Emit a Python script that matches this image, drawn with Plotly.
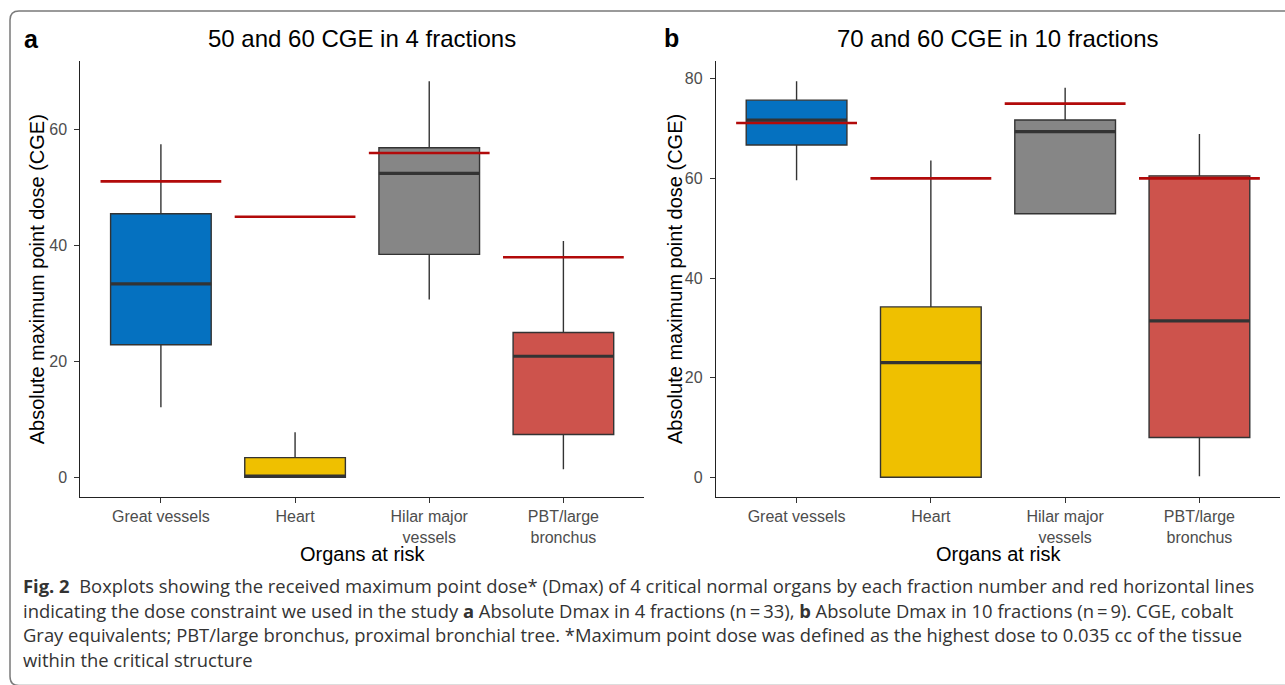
import plotly.graph_objects as go

# ---------------- data ----------------
organs = ["Great vessels", "Heart", "Hilar major<br>vessels", "PBT/large<br>bronchus"]
colors = ["#0571C0", "#EFC000", "#868686", "#CD534C"]

# panel a: 50 and 60 CGE in 4 fractions
a_low = [12.1, 0.0, 30.7, 1.4]
a_q1 = [22.9, 0.0, 38.5, 7.4]
a_med = [33.4, 0.2, 52.5, 20.9]
a_q3 = [45.5, 3.4, 56.9, 25.0]
a_high = [57.5, 7.8, 68.4, 40.8]
a_limit = [51.1, 45.0, 56.0, 38.0]

# panel b: 70 and 60 CGE in 10 fractions
b_low = [59.6, 0.0, 52.9, 0.2]
b_q1 = [66.7, 0.0, 52.9, 8.0]
b_med = [71.7, 23.0, 69.4, 31.4]
b_q3 = [75.7, 34.2, 71.7, 60.5]
b_high = [79.5, 63.6, 78.2, 68.9]
b_limit = [71.1, 60.0, 75.0, 60.0]

a_ticks = [0, 20, 40, 60]
b_ticks = [0, 20, 40, 60, 80]

title_a = "50 and 60 CGE in 4 fractions"
title_b = "70 and 60 CGE in 10 fractions"
ytitle = "Absolute maximum point dose (CGE)"
xtitle = "Organs at risk"

caption_lines = [
    "<b>Fig. 2</b>  Boxplots showing the received maximum point dose* (Dmax) of 4 critical normal organs by each fraction number and red horizontal lines",
    "indicating the dose constraint we used in the study <b>a</b> Absolute Dmax in 4 fractions (n\u2009=\u200933), <b>b</b> Absolute Dmax in 10 fractions (n\u2009=\u20099). CGE, cobalt",
    "Gray equivalents; PBT/large bronchus, proximal bronchial tree. *Maximum point dose was defined as the highest dose to 0.035 cc of the tissue",
    "within the critical structure",
]

# ---------------- layout helpers ----------------
W, H = 1285, 685
def px(x):
    return x / W
def py(y):
    return 1 - y / H

BOX_W = 0.75
SEG_HALF = 0.45
FONT = "Liberation Sans, Arial, sans-serif"

fig = go.Figure()

panels = [
    ("x", "y", a_low, a_q1, a_med, a_q3, a_high, a_limit),
    ("x2", "y2", b_low, b_q1, b_med, b_q3, b_high, b_limit),
]

for xr, yr, lo, q1, med, q3, hi, lim in panels:
    for i in range(len(organs)):
        fig.add_trace(go.Box(
            x=[i], q1=[q1[i]], median=[med[i]], q3=[q3[i]],
            lowerfence=[lo[i]], upperfence=[hi[i]],
            width=BOX_W, whiskerwidth=0, boxpoints=False,
            fillcolor=colors[i], line=dict(color="#333333", width=1.4),
            xaxis=xr, yaxis=yr, showlegend=False, hoverinfo="skip",
        ))
    # thick median lines
    mx, my = [], []
    for i in range(len(organs)):
        mx += [i - BOX_W / 2, i + BOX_W / 2, None]
        my += [med[i], med[i], None]
    fig.add_trace(go.Scatter(x=mx, y=my, mode="lines",
                             line=dict(color="#333333", width=3.2),
                             xaxis=xr, yaxis=yr, showlegend=False, hoverinfo="skip"))
    # red constraint lines
    rx, ry = [], []
    for i in range(len(organs)):
        rx += [i - SEG_HALF, i + SEG_HALF, None]
        ry += [lim[i], lim[i], None]
    fig.add_trace(go.Scatter(x=rx, y=ry, mode="lines",
                             line=dict(color="#B20A0A", width=2.6),
                             xaxis=xr, yaxis=yr, showlegend=False, hoverinfo="skip"))

def yrange(lo, hi):
    mn, mx = min(lo), max(hi)
    pad = 0.05 * (mx - mn)
    return [mn - pad, mx + pad]

axis_common = dict(
    showline=True, linecolor="#222222", linewidth=1.3,
    ticks="outside", ticklen=5, tickwidth=1.2, tickcolor="#333333",
    showgrid=False, zeroline=False,
    tickfont=dict(family=FONT, size=16, color="#4D4D4D"),
)

xa = dict(axis_common, tickmode="array", tickvals=list(range(len(organs))),
          ticktext=organs, range=[-0.6, len(organs) - 0.4])
ya = dict(axis_common, ticklabelstandoff=4)
fig.update_layout(
    xaxis=dict(xa, domain=[px(80.4), px(643.9)], anchor="y"),
    xaxis2=dict(xa, domain=[px(716.0), px(1280.0)], anchor="y2"),
    yaxis=dict(ya, domain=[py(497.1), py(61.4)], anchor="x",
               tickvals=a_ticks, range=yrange(a_low, a_high)),
    yaxis2=dict(ya, domain=[py(497.1), py(61.4)], anchor="x2",
                tickvals=b_ticks, range=yrange(b_low, b_high)),
)

ann = []
def text(x, y, s, size, color="#000000", bold=False, angle=0, xanchor="center", family=FONT):
    ann.append(dict(x=px(x), y=py(y), xref="paper", yref="paper", text=(f"<b>{s}</b>" if bold else s),
                    showarrow=False, xanchor=xanchor, yanchor="middle", textangle=angle,
                    font=dict(family=family, size=size, color=color)))

# panel labels and titles
text(31.7, 39, "a", 25, bold=True)
text(671, 38, "b", 25, bold=True)
text(362, 38.3, title_a, 24)
text(998, 38.3, title_b, 24)
# axis titles
text(37.3, 279, ytitle, 20, angle=-90)
text(675, 279, ytitle, 20, angle=-90)
text(362, 553.6, xtitle, 20)
text(998, 553.6, xtitle, 20)

# caption
cap_y = [585, 610, 634.5, 659]
for s, yy in zip(caption_lines, cap_y):
    text(21, yy, s, 18.4, color="#333333", xanchor="left", family="Open Sans, sans-serif")

# rounded border (right edge lies outside the picture, so it is left open)
L, T, R, B, r = 10, 11, 1300, 685.5, 9
path = (f"M {px(R)},{py(T)} L {px(L+r)},{py(T)} Q {px(L)},{py(T)} {px(L)},{py(T+r)} "
        f"L {px(L)},{py(B-r)} Q {px(L)},{py(B)} {px(L+r)},{py(B)} L {px(R)},{py(B)}")

fig.update_layout(
    width=W, height=H,
    margin=dict(l=0, r=0, t=0, b=0),
    paper_bgcolor="white", plot_bgcolor="white",
    showlegend=False,
    annotations=ann,
    shapes=[dict(type="path", path=path, xref="paper", yref="paper",
                 line=dict(color="#7A7A7A", width=1.5), layer="below")],
)

fig.write_html("out.html", post_script="document.body.style.margin='0px';",
               config={"displayModeBar": False})
